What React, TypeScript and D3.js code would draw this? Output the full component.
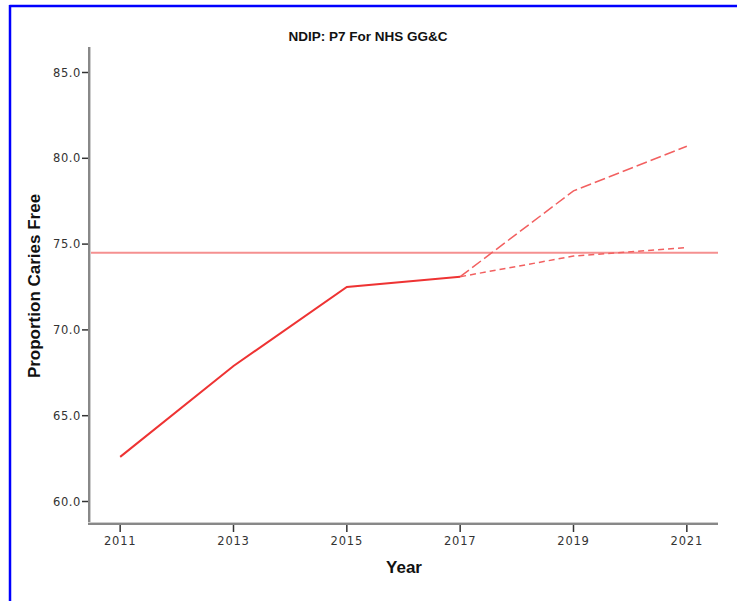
import React from "react";
import * as d3 from "d3";

const years = [2011, 2013, 2015, 2017];
const actual = [62.6, 67.9, 72.5, 73.1];
const projYears = [2017, 2019, 2021];
const projHigh = [73.1, 78.1, 80.7];
const projLow = [73.1, 74.3, 74.8];
const target = 74.5;
const xTicks = [2011, 2013, 2015, 2017, 2019, 2021];
const yTicks = [60, 65, 70, 75, 80, 85];
const title = "NDIP: P7 For NHS GG&C";
const yLabel = "Proportion Caries Free";
const xLabel = "Year";

export default function App() {
  const W = 737, H = 601;
  const x = d3.scaleLinear().domain([2010.45, 2021.55]).range([89, 718]);
  const y = d3.scaleLinear().domain([60, 85]).range([501.5, 72.5]);
  const yTop = 47, yBot = 525;
  const line = d3.line<[number, number]>().x(d => x(d[0])).y(d => y(d[1]));
  const actPts = years.map((yr, i) => [yr, actual[i]] as [number, number]);
  const hiPts = projYears.map((yr, i) => [yr, projHigh[i]] as [number, number]);
  const loPts = projYears.map((yr, i) => [yr, projLow[i]] as [number, number]);
  const tickFont = "'DejaVu Sans', sans-serif";
  const labFont = "'Liberation Sans', Arial, sans-serif";
  return (
    <svg width={W} height={H} style={{ position: "absolute", left: 0, top: 0, background: "#fff" }}>
      <rect x={0} y={0} width={W} height={H} fill="#fff" />
      <line x1={9.5} y1={6} x2={W} y2={6} stroke="#0000ff" strokeWidth={2.5} />
      <line x1={10} y1={5} x2={10} y2={H} stroke="#0000ff" strokeWidth={2.5} />
      <text x={368} y={41} textAnchor="middle" fontFamily={labFont} fontWeight="bold" fontSize={13.5} fill="#111">{title}</text>
      {/* target line */}
      <line x1={x(2010.45)} x2={x(2021.55)} y1={y(target)} y2={y(target)} stroke="#f59090" strokeWidth={2} />
      {/* projections */}
      <path d={line(hiPts) || ""} fill="none" stroke="#f26060" strokeWidth={1.5} strokeDasharray="11,4" />
      <path d={line(loPts) || ""} fill="none" stroke="#f26060" strokeWidth={1.5} strokeDasharray="6,4" />
      {/* actual */}
      <path d={line(actPts) || ""} fill="none" stroke="#ee3333" strokeWidth={2} />
      {/* y axis */}
      <line x1={89} x2={89} y1={yTop} y2={yBot} stroke="#888" strokeWidth={2} />
      <line x1={90.5} x2={90.5} y1={yTop} y2={yBot} stroke="#ccc" strokeWidth={1} />
      {yTicks.map(t => (
        <g key={t}>
          <line x1={82} x2={88} y1={y(t)} y2={y(t)} stroke="#333" strokeWidth={1.5} />
          <text x={81} y={y(t)} dy="0.35em" textAnchor="end" fontFamily={tickFont} fontSize={11.5} letterSpacing={0.6} fill="#333">{t.toFixed(1)}</text>
        </g>
      ))}
      {/* x axis */}
      <line x1={88} x2={718} y1={524} y2={524} stroke="#888" strokeWidth={2} />
      <line x1={88} x2={718} y1={522.5} y2={522.5} stroke="#ccc" strokeWidth={1} />
      {xTicks.map(t => (
        <g key={t}>
          <line x1={x(t)} x2={x(t)} y1={525} y2={532} stroke="#333" strokeWidth={1.5} />
          <text x={x(t)} y={545} textAnchor="middle" fontFamily={tickFont} fontSize={11.5} letterSpacing={0.8} fill="#333">{t}</text>
        </g>
      ))}
      <text transform={`translate(40,286) rotate(-90)`} textAnchor="middle" fontFamily={labFont} fontWeight="bold" fontSize={17} fill="#111">{yLabel}</text>
      <text x={404} y={573} textAnchor="middle" fontFamily={labFont} fontWeight="bold" fontSize={17} fill="#111">{xLabel}</text>
    </svg>
  );
}
